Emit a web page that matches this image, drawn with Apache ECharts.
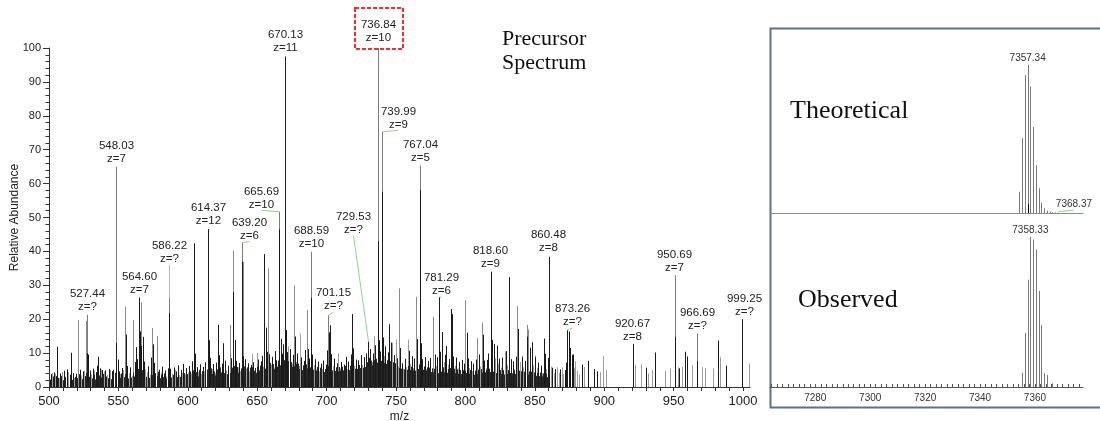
<!DOCTYPE html>
<html>
<head>
<meta charset="utf-8">
<script src="https://cdn.jsdelivr.net/npm/echarts@6/dist/echarts.min.js"></script>
<style>
  html, body { margin: 0; padding: 0; background: #fff; }
  #chart { width: 1100px; height: 421px; }
</style>
</head>
<body>
<div id="chart"></div>
<script>
// ---- Precursor spectrum (m/z, relative abundance %) ----

// annotated peaks: m/z, abundance, charge
const labeledMz  = [527.44, 548.03, 564.60, 586.22, 614.37, 639.20, 665.69, 670.13, 688.59, 701.15, 729.53,
                    736.84, 739.99, 767.04, 781.29, 818.60, 860.48, 873.26, 920.67, 950.69, 966.69, 999.25];
const labeledInt = [21.3, 65.0, 26.4, 26.2, 46.6, 42.6, 51.7, 97.5, 39.9, 21.2, 13.4,
                    100, 75.3, 65.3, 26.5, 34.0, 38.4, 16.8, 12.7, 33.0, 15.8, 20.0];
const labeledZ   = ['z=?', 'z=7', 'z=7', 'z=?', 'z=12', 'z=6', 'z=10', 'z=11', 'z=10', 'z=?', 'z=?',
                    'z=10', 'z=9', 'z=5', 'z=6', 'z=9', 'z=8', 'z=?', 'z=8', 'z=7', 'z=?', 'z=?'];

// other prominent peaks
const majorDark = [[506.0, 11.9], [515.8, 10.1], [535.3, 8.9], [604.7, 42.4], [621.5, 18.3], [625.6, 12.9],
                   [655.1, 39.2], [718.3, 21.5], [745.2, 18.5], [789.6, 23.0], [831.5, 32.4], [856.5, 14.3]];
const majorGrey = [[520.6, 19.8], [526.4, 19.5], [554.8, 23.7], [560.8, 19.8], [566.6, 25.0], [574.0, 17.4],
                   [577.5, 15.0], [630.1, 18.3], [632.8, 40.2], [640.1, 36.9], [657.8, 35.0], [676.3, 30.0],
                   [685.6, 22.7], [752.3, 29.1], [764.3, 26.6], [776.9, 20.7], [799.7, 25.6], [808.6, 14.4],
                   [811.7, 19.0], [837.2, 23.9], [844.0, 18.3], [845.4, 17.0]];

// darker lower parts of overlapping peaks
const shoulders = [[527.44, 10.0], [548.03, 13.0], [586.22, 21.8], [632.8, 28.0], [639.20, 37.0], [665.69, 46.5],
                   [688.59, 26.3], [736.84, 43.0], [739.7, 57.6], [767.04, 58.0], [950.69, 14.8], [966.69, 7.6]];

// low-level peaks
const noiseDark = [
  [501.2, 3.8], [503.6, 4.3], [505.3, 3.2], [508.0, 4.0], [510.5, 4.8], [512.8, 5.2], [514.9, 3.6], [517.2, 4.1],
  [519.4, 3.9], [522.0, 5.1], [524.3, 4.6], [528.3, 9.6], [529.2, 4.9], [531.5, 5.4], [533.7, 4.4], [534.6, 6.3],
  [536.4, 5.5], [538.5, 5.0], [540.7, 4.9], [542.9, 5.3], [545.1, 4.7], [546.2, 5.1], [549.4, 8.1], [550.3, 4.6],
  [552.5, 5.6], [555.6, 15.5], [556.5, 6.2], [558.5, 5.8], [561.8, 7.4], [562.7, 11.8], [563.6, 8.2], [565.3, 16.4],
  [566.0, 12.1], [567.7, 14.8], [568.6, 7.5], [571.5, 6.1], [573.4, 8.7], [575.0, 12.6], [575.9, 7.1], [579.3, 5.1],
  [581.3, 6.0], [583.6, 4.9], [585.4, 5.5], [587.5, 5.4], [589.7, 5.8], [591.7, 4.6], [592.8, 6.4], [594.8, 5.0],
  [596.8, 6.8], [599.0, 5.6], [601.2, 6.2], [603.2, 7.6], [605.4, 9.8], [606.5, 5.9], [608.5, 6.7], [610.7, 5.9],
  [612.7, 7.3], [615.2, 13.8], [616.1, 8.6], [618.3, 6.8], [620.5, 7.2], [622.4, 9.4], [624.6, 6.9], [626.5, 7.8],
  [628.7, 6.3], [631.1, 8.5], [633.8, 13.9], [634.9, 7.7], [636.9, 7.1], [639.8, 9.0], [641.0, 8.2], [643.0, 7.0],
  [645.2, 6.5], [647.1, 7.3], [650.7, 8.1], [652.9, 7.6], [653.8, 9.2], [656.0, 17.5], [656.9, 10.4], [658.8, 9.7],
  [660.8, 8.9], [662.8, 10.6], [663.7, 7.9], [666.8, 14.2], [667.7, 9.8], [668.5, 12.6], [670.9, 16.8], [671.6, 10.3],
  [673.8, 11.2], [675.6, 9.5], [677.2, 14.9], [679.0, 9.9], [681.8, 8.7], [683.6, 7.7], [684.5, 10.9], [686.4, 11.2],
  [687.5, 8.4], [689.8, 9.6], [691.8, 8.2], [693.6, 7.5], [695.6, 6.9], [697.6, 7.8], [699.6, 6.6], [700.3, 10.8],
  [701.6, 16.1], [702.6, 18.2], [703.5, 9.7], [705.5, 8.4], [707.5, 7.0], [710.5, 7.4], [712.5, 6.6], [713.6, 8.9],
  [715.6, 7.5], [717.4, 9.6], [718.9, 11.4], [720.9, 8.1], [722.7, 7.9], [724.7, 9.4], [726.7, 8.8], [728.5, 9.9],
  [730.4, 8.6], [731.6, 11.2], [733.4, 9.9], [735.0, 12.3], [737.5, 13.8], [738.3, 10.5], [740.6, 14.6], [742.4, 12.0],
  [744.2, 10.2], [746.3, 13.1], [748.3, 9.4], [750.9, 8.5], [753.2, 11.5], [754.1, 7.0], [756.3, 8.3], [759.5, 10.7],
  [761.3, 9.1], [763.3, 8.4], [765.3, 14.1], [768.0, 12.9], [768.9, 8.2], [770.9, 8.8], [772.7, 7.7], [774.5, 8.6],
  [777.8, 9.6], [779.8, 8.8], [781.9, 10.4], [783.0, 16.2], [785.1, 9.5], [786.2, 12.1], [788.2, 8.3], [790.3, 21.5],
  [791.2, 9.0], [793.2, 8.7], [795.4, 7.4], [797.4, 8.0], [799.0, 6.9], [800.8, 16.0], [801.9, 8.4], [803.9, 7.6],
  [805.7, 6.9], [807.7, 8.1], [809.6, 9.6], [812.6, 15.4], [813.5, 7.8], [815.5, 8.0], [816.6, 9.9], [818.2, 22.0],
  [819.4, 13.9], [820.3, 12.7], [822.5, 12.2], [824.5, 8.4], [826.3, 8.7], [829.2, 10.6], [833.1, 8.2], [834.4, 7.6],
  [836.2, 8.9], [838.2, 17.1], [840.6, 9.0], [842.6, 7.7], [844.6, 14.8], [846.4, 11.6], [847.6, 13.1], [849.8, 8.8],
  [852.3, 7.2], [854.3, 6.3], [857.3, 9.8], [859.2, 8.6], [862.6, 5.7], [864.8, 5.3], [868.2, 5.2], [871.5, 5.0],
  [872.4, 7.2], [874.5, 16.4], [875.6, 11.5], [876.5, 9.5], [877.6, 9.6], [883.8, 6.6], [888.5, 7.7], [892.7, 5.3],
  [894.6, 4.6], [930.1, 5.7], [936.8, 10.2], [953.6, 5.5], [958.2, 10.4], [959.8, 9.0], [982.3, 13.7], [987.8, 6.3]
];
const noiseGrey = [
  [502.4, 4.1], [504.5, 3.9], [507.1, 2.6], [509.2, 4.4], [511.6, 3.1], [513.7, 4.4], [518.3, 2.7], [523.2, 3.4],
  [525.2, 4.8], [530.4, 3.7], [532.6, 4.9], [537.3, 5.2], [539.6, 4.6], [541.8, 3.6], [544.0, 5.1], [547.2, 3.9],
  [551.4, 3.8], [553.4, 5.0], [557.4, 4.1], [559.6, 3.3], [569.5, 5.2], [570.6, 4.4], [572.6, 3.6], [580.4, 4.3],
  [582.5, 3.5], [584.5, 3.2], [588.6, 3.9], [590.6, 5.1], [593.7, 3.5], [595.9, 4.2], [597.9, 3.7], [600.1, 4.3],
  [602.3, 4.0], [604.1, 5.5], [607.4, 4.4], [609.6, 3.8], [611.8, 4.6], [613.5, 5.2], [617.2, 5.3], [619.4, 4.1],
  [623.5, 5.6], [627.6, 4.9], [635.8, 5.8], [637.6, 4.7], [642.1, 5.4], [644.1, 4.6], [646.0, 9.8], [648.2, 5.0],
  [649.6, 10.0], [651.8, 5.3], [654.3, 6.0], [659.7, 6.6], [661.9, 5.7], [672.4, 12.0], [674.7, 6.9], [678.1, 7.4],
  [679.9, 6.2], [680.8, 15.7], [682.7, 5.8], [690.7, 6.4], [692.7, 5.1], [694.7, 4.6], [696.7, 5.3], [698.7, 4.9],
  [704.6, 6.1], [706.6, 4.8], [708.4, 10.0], [709.4, 5.5], [711.4, 4.3], [714.5, 5.2], [716.7, 4.7], [719.8, 6.3],
  [721.8, 5.4], [723.8, 4.9], [725.6, 6.5], [727.6, 5.7], [732.5, 7.4], [734.4, 15.0], [741.5, 9.1], [743.3, 7.7],
  [746.9, 13.0], [747.2, 7.2], [749.0, 6.3], [749.8, 14.0], [751.5, 6.1], [755.2, 5.4], [757.4, 5.9], [758.6, 14.0],
  [760.4, 6.8], [762.4, 5.6], [769.8, 6.1], [771.8, 5.3], [773.6, 5.0], [775.6, 4.9], [778.9, 6.2], [784.2, 7.3],
  [787.1, 6.6], [792.3, 6.2], [794.3, 5.5], [796.3, 4.8], [798.3, 5.1], [802.8, 5.6], [804.8, 4.7], [806.8, 5.0],
  [810.5, 6.1], [814.6, 5.5], [821.4, 8.5], [823.4, 6.9], [825.4, 5.7], [827.4, 5.1], [828.5, 10.5], [830.3, 6.5],
  [835.3, 5.3], [839.3, 7.4], [840.5, 8.0], [841.5, 5.8], [847.8, 13.3], [848.7, 6.4], [850.1, 9.3], [851.2, 5.7],
  [853.4, 4.4], [855.4, 4.1], [858.2, 5.3], [861.9, 6.0], [863.7, 4.0], [865.8, 5.8], [867.1, 4.2], [869.4, 5.8],
  [870.6, 3.9], [878.5, 5.5], [879.2, 7.6], [880.5, 4.8], [881.6, 3.7], [885.2, 5.9], [897.2, 4.4], [899.4, 9.1],
  [901.6, 5.0], [922.4, 6.5], [926.4, 6.7], [931.2, 4.0], [934.5, 5.0], [943.8, 4.8], [947.4, 5.5], [953.0, 5.8],
  [956.3, 5.9], [963.5, 6.5], [970.2, 5.8], [972.3, 5.5], [978.6, 5.5], [983.5, 8.8], [1004.4, 6.9]
];
// dense baseline peaks below m/z 860
const noiseFloor = [
  [500.6, 2.2], [502.9, 3.1], [504.9, 1.8], [506.6, 2.7], [508.7, 3.3], [510.0, 2.0], [511.2, 2.9], [513.2, 2.4],
  [515.3, 3.5], [516.6, 2.1], [518.8, 3.0], [520.1, 2.6], [521.4, 3.8], [523.7, 2.3], [525.7, 3.2], [527.0, 4.1],
  [528.9, 3.0], [530.9, 2.5], [532.1, 3.6], [533.2, 2.2], [535.9, 3.4], [537.8, 2.8], [539.1, 3.9], [540.2, 2.4],
  [541.3, 3.1], [542.4, 2.6], [543.5, 3.7], [544.6, 2.3], [545.7, 3.5], [547.7, 4.2], [549.9, 3.3], [551.0, 2.7],
  [551.9, 4.0], [553.9, 2.9], [555.0, 3.8], [557.0, 2.5], [558.0, 3.6], [559.1, 2.8], [560.2, 4.3], [561.3, 3.1],
  [563.1, 4.6], [564.0, 5.3], [565.8, 4.4], [567.2, 5.0], [568.1, 3.9], [570.1, 3.0], [571.0, 4.2], [572.1, 2.7],
  [573.9, 3.5], [576.4, 4.1], [577.9, 3.2], [578.8, 4.5], [579.8, 2.6], [580.9, 3.7], [581.9, 2.9], [583.0, 4.0],
  [584.0, 2.5], [585.9, 3.4], [587.0, 4.4], [588.1, 2.8], [589.1, 3.6], [590.2, 2.4], [591.2, 3.9], [592.3, 2.9],
  [593.2, 4.3], [594.3, 3.0], [595.3, 3.7], [596.3, 2.6], [597.4, 4.1], [598.4, 2.8], [599.5, 3.8], [600.6, 3.2],
  [601.7, 4.6], [602.8, 3.4], [603.7, 4.9], [604.5, 3.6], [605.9, 4.4], [607.0, 3.1], [607.9, 5.0], [609.0, 3.5],
  [610.2, 4.7], [611.2, 3.2], [612.2, 4.4], [614.0, 5.1], [614.8, 6.0], [615.7, 4.8], [616.7, 5.5], [617.7, 3.9],
  [618.8, 4.6], [619.9, 3.4], [621.0, 5.2], [622.0, 4.0], [622.9, 5.8], [624.1, 4.3], [625.1, 5.6], [626.0, 4.1],
  [627.1, 5.4], [628.2, 3.8], [629.2, 5.0], [630.6, 4.2], [631.6, 5.7], [632.3, 4.5], [633.3, 6.2], [634.4, 4.7],
  [635.3, 5.9], [636.4, 4.2], [638.0, 5.5], [638.8, 6.4], [639.4, 5.0], [640.6, 6.1], [641.5, 4.6], [642.6, 5.8],
  [643.5, 4.3], [644.6, 5.7], [645.7, 4.4], [646.6, 5.9], [647.6, 4.8], [648.7, 5.6], [649.1, 4.2], [650.2, 6.0],
  [651.3, 4.9], [652.3, 6.3], [653.3, 5.1], [654.8, 6.6], [655.6, 5.4], [657.3, 6.9], [658.3, 5.8], [659.2, 7.1],
  [660.3, 5.5], [661.3, 6.8], [662.3, 5.2], [663.2, 7.3], [664.3, 6.0], [665.2, 7.8], [666.3, 6.4], [667.2, 8.1],
  [668.0, 6.7], [669.0, 7.9], [669.6, 6.3], [670.5, 8.4], [671.2, 6.9], [672.0, 7.6], [673.3, 6.2], [674.2, 7.4],
  [675.1, 5.9], [676.0, 7.1], [676.8, 6.1], [677.7, 6.8], [678.6, 5.6], [679.5, 6.9], [680.4, 5.3], [681.3, 6.6],
  [682.3, 5.0], [683.1, 6.4], [684.0, 5.2], [685.1, 6.7], [686.0, 5.5], [687.0, 6.3], [688.1, 5.8], [689.3, 6.8],
  [690.2, 5.1], [691.3, 6.2], [692.2, 4.8], [693.1, 5.9], [694.1, 4.6], [695.1, 5.7], [696.2, 4.5], [697.1, 5.6],
  [698.2, 4.4], [699.1, 5.3], [701.0, 6.2], [702.1, 5.4], [703.0, 6.5], [704.0, 4.9], [705.0, 6.1], [706.1, 4.7],
  [707.0, 5.8], [708.0, 4.6], [708.9, 5.9], [709.9, 4.8], [710.9, 6.0], [712.0, 4.9], [713.0, 6.2], [714.0, 5.1],
  [715.1, 6.4], [716.1, 5.0], [717.0, 6.3], [717.9, 5.2], [719.3, 6.6], [720.4, 5.4], [721.3, 6.7], [722.2, 5.3],
  [723.3, 6.5], [724.2, 5.6], [725.1, 6.9], [726.1, 5.7], [727.1, 7.0], [728.0, 5.9], [729.0, 7.3], [729.9, 6.2],
  [730.9, 7.5], [731.1, 6.1], [732.0, 7.8], [733.0, 6.4], [733.9, 8.0], [734.9, 6.8], [735.5, 8.3], [736.3, 7.2],
  [737.0, 8.7], [738.0, 7.4], [738.8, 9.0], [739.3, 7.7], [740.2, 8.6], [741.1, 7.1], [742.0, 8.2], [742.9, 6.8],
  [743.8, 7.9], [744.7, 6.5], [745.7, 7.6], [746.7, 6.3], [747.7, 7.3], [748.8, 6.0], [749.4, 7.0], [750.4, 5.9],
  [751.0, 6.8], [752.0, 5.6], [752.8, 6.7], [753.7, 5.4], [754.6, 6.5], [755.7, 5.2], [756.8, 6.3], [757.9, 5.1],
  [758.9, 6.2], [759.9, 5.0], [760.9, 6.0], [761.9, 4.9], [762.9, 5.9], [763.8, 4.8], [764.8, 6.1], [765.8, 5.3],
  [766.2, 6.7], [767.5, 5.6], [768.5, 6.4], [769.4, 5.1], [770.4, 6.0], [771.3, 4.8], [772.2, 5.8], [773.1, 4.6],
  [774.0, 5.7], [775.0, 4.4], [776.1, 5.5], [776.5, 4.3], [777.3, 5.4], [778.4, 4.2], [779.3, 5.3], [780.3, 4.1],
  [781.5, 5.6], [782.5, 4.5], [783.6, 5.8], [784.7, 4.3], [785.6, 5.5], [786.7, 4.2], [787.6, 5.3], [788.7, 4.0],
  [789.1, 5.6], [790.8, 4.4], [791.7, 5.4], [792.8, 4.1], [793.7, 5.2], [794.8, 3.9], [795.9, 5.0], [796.8, 3.8],
  [797.9, 4.9], [798.8, 3.7], [799.4, 4.8], [800.3, 4.1], [801.4, 5.2], [802.3, 3.9], [803.4, 5.0], [804.3, 3.8],
  [805.2, 4.9], [806.3, 3.6], [807.2, 4.7], [808.2, 3.9], [809.1, 5.1], [810.0, 4.0], [811.1, 5.3], [812.1, 4.2],
  [813.0, 5.5], [814.1, 4.3], [815.0, 5.1], [816.1, 4.0], [817.1, 5.4], [817.5, 4.4], [818.8, 5.7], [819.9, 4.5],
  [820.8, 5.3], [821.9, 4.1], [823.0, 5.2], [823.9, 3.9], [824.9, 5.0], [825.9, 3.8], [826.8, 4.9], [827.9, 3.7],
  [828.9, 4.8], [829.7, 3.9], [830.8, 5.0], [831.9, 4.1], [832.6, 5.3], [833.6, 4.0], [834.9, 4.9], [835.8, 3.8],
  [836.7, 4.7], [837.7, 3.9], [838.7, 4.8], [839.8, 3.7], [840.1, 4.6], [841.0, 3.6], [842.0, 4.5], [843.1, 3.5],
  [844.1, 4.4], [845.0, 3.7], [845.9, 4.6], [846.9, 3.6], [847.1, 4.5], [848.2, 3.4], [849.2, 4.3], [850.6, 3.3],
  [851.7, 4.2], [852.8, 3.2], [853.8, 4.1], [854.8, 3.1], [855.9, 4.0], [856.9, 3.0], [857.8, 3.9], [858.7, 2.9]
];

// ---- Deconvoluted isotope envelopes (mass, relative %) ----
const theoreticalPeaks = [[7354.34, 14.4], [7355.34, 50.5], [7356.34, 93.2], [7357.34, 100], [7358.34, 85.4],
                          [7359.34, 58.3], [7360.35, 32.4], [7361.35, 16.7], [7362.35, 7.0], [7363.35, 3.2],
                          [7364.35, 1.6], [7365.36, 0.9], [7366.36, 0.6], [7367.36, 0.4], [7368.37, 0.3]];
const theoreticalMarker = [[7357.34, 6.3]];
const observedPeaks = [[7355.33, 9.5], [7356.33, 36.0], [7357.33, 71.6], [7358.33, 100], [7359.33, 98.4],
                       [7360.33, 91.6], [7361.33, 64.0], [7362.34, 41.2], [7363.34, 9.1], [7364.34, 8.0],
                       [7366.30, 2.4]];
const theoreticalLabels = [7357.34, 7368.37];
const observedLabels = [7358.33];

// axis ticks
const mzLabels = [500, 550, 600, 650, 700, 750, 800, 850, 900, 950, 1000];
const massLabels = [7280, 7300, 7320, 7340, 7360];

// ---- layout of annotations (pixel offsets from each peak top) ----
// [dx, dy to centre of second line, leader line, highlight box]
const labelLayout = [
  [0, -8], [0, -8], [0, -8], [0, -39, 1], [0, -8], [7, -7, 1], [-18, -7.4, 1], [0, -8.4], [0, -8.4], [5, -9, 1],
  [-15, -112, 1], [0, -10, 0, 1], [16, -7.4, 1], [0, -8], [2, -6, 1], [-1, -7.7], [-1, -9], [5, -8, 1],
  [-1, -7.3], [-1, -7.3], [0, -7.3], [2, -7]
];
const darkLabeled = [564.60, 614.37, 670.13, 729.53, 781.29, 818.60, 860.48, 873.26, 920.67, 999.25];

const SANS = '"Liberation Sans", Arial, sans-serif';
const SERIF = '"Liberation Serif", "Times New Roman", serif';
const LEADER = '#8ed68e';

function sticks(color) {
  return function (params, api) {
    const base = api.coord([api.value(0), 0]);
    const top = api.coord([api.value(0), api.value(1)]);
    const x = Math.round(base[0]) + 0.5;
    return {
      type: 'line', silent: true,
      shape: { x1: x, y1: base[1], x2: x, y2: top[1] },
      style: { stroke: color, lineWidth: 1 }
    };
  };
}

function labeledSticks(params, api) {
  const mz = api.value(0);
  const base = api.coord([mz, 0]);
  const top = api.coord([mz, api.value(1)]);
  const x = Math.round(base[0]) + 0.5;
  const dark = darkLabeled.indexOf(mz) >= 0;
  return {
    type: 'line', silent: true,
    shape: { x1: x, y1: base[1], x2: x, y2: top[1] },
    style: { stroke: dark ? '#1c1c1c' : '#7d7d7d', lineWidth: 1 }
  };
}

function peakAnnotations(params, api) {
  const i = params.dataIndex;
  const p = api.coord([api.value(0), api.value(1)]);
  const lay = labelLayout[i];
  const px = Math.round(p[0]) + 0.5;
  const cx = px + lay[0];
  const cy2 = p[1] + lay[1];
  const children = [{
    type: 'text', silent: true,
    style: {
      text: labeledMz[i].toFixed(2) + '\n' + labeledZ[i],
      x: cx, y: cy2 - 6.5, align: 'center', verticalAlign: 'middle',
      fontSize: 11.5, fontFamily: SANS, fill: '#222', lineHeight: 13
    }
  }];
  if (lay[2]) {
    children.push({
      type: 'line', silent: true,
      shape: { x1: cx, y1: cy2 + 6, x2: px, y2: p[1] },
      style: { stroke: LEADER, lineWidth: 1 }
    });
  }
  if (lay[3]) {
    children.push({
      type: 'rect', silent: true,
      shape: { x: cx - 23.5, y: cy2 - 30, width: 48, height: 41 },
      style: { fill: null, stroke: '#ff2a2a', lineWidth: 2, lineDash: [4, 2] }
    });
  }
  return { type: 'group', children: children };
}

function massAnnotations(values, leaderIndex) {
  return function (params, api) {
    const i = params.dataIndex;
    const p = api.coord([api.value(0), api.value(1)]);
    const children = [];
    if (i === leaderIndex) {
      children.push({ type: 'text', silent: true,
        style: { text: values[i].toFixed(2), x: p[0] + 16, y: p[1] - 8, align: 'center', verticalAlign: 'middle',
                 fontSize: 10, fontFamily: SANS, fill: '#333' } });
      children.push({ type: 'line', silent: true,
        shape: { x1: p[0] + 1, y1: p[1] - 1, x2: p[0] + 16, y2: p[1] - 2.5 },
        style: { stroke: LEADER, lineWidth: 1 } });
    } else {
      children.push({ type: 'text', silent: true,
        style: { text: values[i].toFixed(2), x: p[0], y: p[1] - 7, align: 'center', verticalAlign: 'middle',
                 fontSize: 10, fontFamily: SANS, fill: '#333' } });
    }
    return { type: 'group', children: children };
  };
}

function lookup(list, keys) {
  return keys.map(function (k) {
    for (let j = 0; j < list.length; j++) if (list[j][0] === k) return list[j];
    return [k, 0];
  });
}

function plain(v) { return String(v); }

const mzTicks = [];
for (let v = 500; v <= 1000; v += 10) mzTicks.push(v);
const massTicks = [];
for (let v = 7264; v <= 7376; v += 2) massTicks.push(v);

const chart = echarts.init(document.getElementById('chart'), null, { renderer: 'canvas' });

const axisColor = '#333';
const massMin = 7263.5, massMax = 7377.5;

chart.setOption({
  animation: false,
  backgroundColor: '#fff',
  grid: [
    { left: 49, top: 48, width: 701, height: 339, outerBoundsMode: 'none', containLabel: false },
    { left: 770, top: 65, width: 313, height: 148, outerBoundsMode: 'none', containLabel: false },
    { left: 770, top: 237, width: 313, height: 150, outerBoundsMode: 'none', containLabel: false }
  ],
  xAxis: [
    {
      gridIndex: 0, type: 'value', min: 500, max: 1005,
      name: 'm/z', nameLocation: 'middle', nameGap: 24, nameMoveOverlap: false,
      nameTextStyle: { fontSize: 12, fontFamily: SANS, color: '#222' },
      axisLine: { lineStyle: { color: axisColor, width: 1 } },
      axisTick: { customValues: mzTicks, length: 4, lineStyle: { color: axisColor } },
      axisLabel: { customValues: mzLabels, formatter: plain, fontSize: 13, fontFamily: SANS, color: '#222', margin: 8 },
      splitLine: { show: false }
    },
    {
      gridIndex: 1, type: 'value', min: massMin, max: massMax,
      axisLine: { lineStyle: { color: '#8a8a8a', width: 1 } },
      axisTick: { show: false }, axisLabel: { show: false }, splitLine: { show: false }
    },
    {
      gridIndex: 2, type: 'value', min: massMin, max: massMax,
      axisLine: { lineStyle: { color: '#555', width: 1 } },
      axisTick: { customValues: massTicks, inside: true, length: 3, lineStyle: { color: '#555' } },
      axisLabel: { customValues: massLabels, formatter: plain, fontSize: 10, fontFamily: SANS, color: '#333', margin: 6 },
      splitLine: { show: false }
    }
  ],
  yAxis: [
    {
      gridIndex: 0, type: 'value', min: 0, max: 100, interval: 10,
      name: 'Relative Abundance', nameLocation: 'middle', nameGap: 28, nameMoveOverlap: false,
      nameTextStyle: { fontSize: 12, fontFamily: SANS, color: '#222' },
      axisLine: { show: true, lineStyle: { color: axisColor, width: 1 } },
      axisTick: { show: true, length: 6, lineStyle: { color: axisColor } },
      minorTick: { show: true, splitNumber: 5, length: 3.5, lineStyle: { color: axisColor } },
      axisLabel: { fontSize: 11, fontFamily: SANS, color: '#222', margin: 8 },
      splitLine: { show: false }
    },
    { gridIndex: 1, type: 'value', min: 0, max: 100, show: false },
    { gridIndex: 2, type: 'value', min: 0, max: 100, show: false }
  ],
  series: [
    { type: 'custom', xAxisIndex: 0, yAxisIndex: 0, data: noiseGrey, renderItem: sticks('#9c9c9c'), clip: true, z: 1 },
    { type: 'custom', xAxisIndex: 0, yAxisIndex: 0, data: majorGrey, renderItem: sticks('#8a8a8a'), clip: true, z: 2 },
    { type: 'custom', xAxisIndex: 0, yAxisIndex: 0, data: labeledMz.map(function (m, i) { return [m, labeledInt[i]]; }),
      renderItem: labeledSticks, clip: true, z: 3 },
    { type: 'custom', xAxisIndex: 0, yAxisIndex: 0, data: noiseFloor, renderItem: sticks('#262626'), clip: true, z: 4 },
    { type: 'custom', xAxisIndex: 0, yAxisIndex: 0, data: noiseDark, renderItem: sticks('#1a1a1a'), clip: true, z: 4 },
    { type: 'custom', xAxisIndex: 0, yAxisIndex: 0, data: majorDark, renderItem: sticks('#1a1a1a'), clip: true, z: 4 },
    { type: 'custom', xAxisIndex: 0, yAxisIndex: 0, data: shoulders, renderItem: sticks('#1a1a1a'), clip: true, z: 5 },
    { type: 'custom', xAxisIndex: 0, yAxisIndex: 0, data: labeledMz.map(function (m, i) { return [m, labeledInt[i]]; }),
      renderItem: peakAnnotations, clip: false, z: 10 },

    { type: 'custom', xAxisIndex: 1, yAxisIndex: 1, data: theoreticalPeaks, renderItem: sticks('#7a7a7a'), clip: true, z: 2 },
    { type: 'custom', xAxisIndex: 1, yAxisIndex: 1, data: theoreticalMarker, renderItem: sticks('#111'), clip: true, z: 3 },
    { type: 'custom', xAxisIndex: 1, yAxisIndex: 1, data: lookup(theoreticalPeaks, theoreticalLabels),
      renderItem: massAnnotations(theoreticalLabels, 1), clip: false, z: 10 },

    { type: 'custom', xAxisIndex: 2, yAxisIndex: 2, data: observedPeaks, renderItem: sticks('#7a7a7a'), clip: true, z: 2 },
    { type: 'custom', xAxisIndex: 2, yAxisIndex: 2, data: lookup(observedPeaks, observedLabels),
      renderItem: massAnnotations(observedLabels, -1), clip: false, z: 10 }
  ],
  graphic: [
    { type: 'rect', left: 768, top: 26, shape: { width: 345, height: 379 },
      style: { fill: null, stroke: '#5e7285', lineWidth: 2 }, silent: true, z: 0 },
    { type: 'text', left: 502, top: 27,
      style: { text: 'Precursor\nSpectrum', fontSize: 22, lineHeight: 24, fontFamily: SERIF, fill: '#111' } },
    { type: 'text', left: 790, top: 98,
      style: { text: 'Theoretical', fontSize: 26, fontFamily: SERIF, fill: '#111' } },
    { type: 'text', left: 798, top: 287,
      style: { text: 'Observed', fontSize: 26, fontFamily: SERIF, fill: '#111' } }
  ]
});
</script>
</body>
</html>
